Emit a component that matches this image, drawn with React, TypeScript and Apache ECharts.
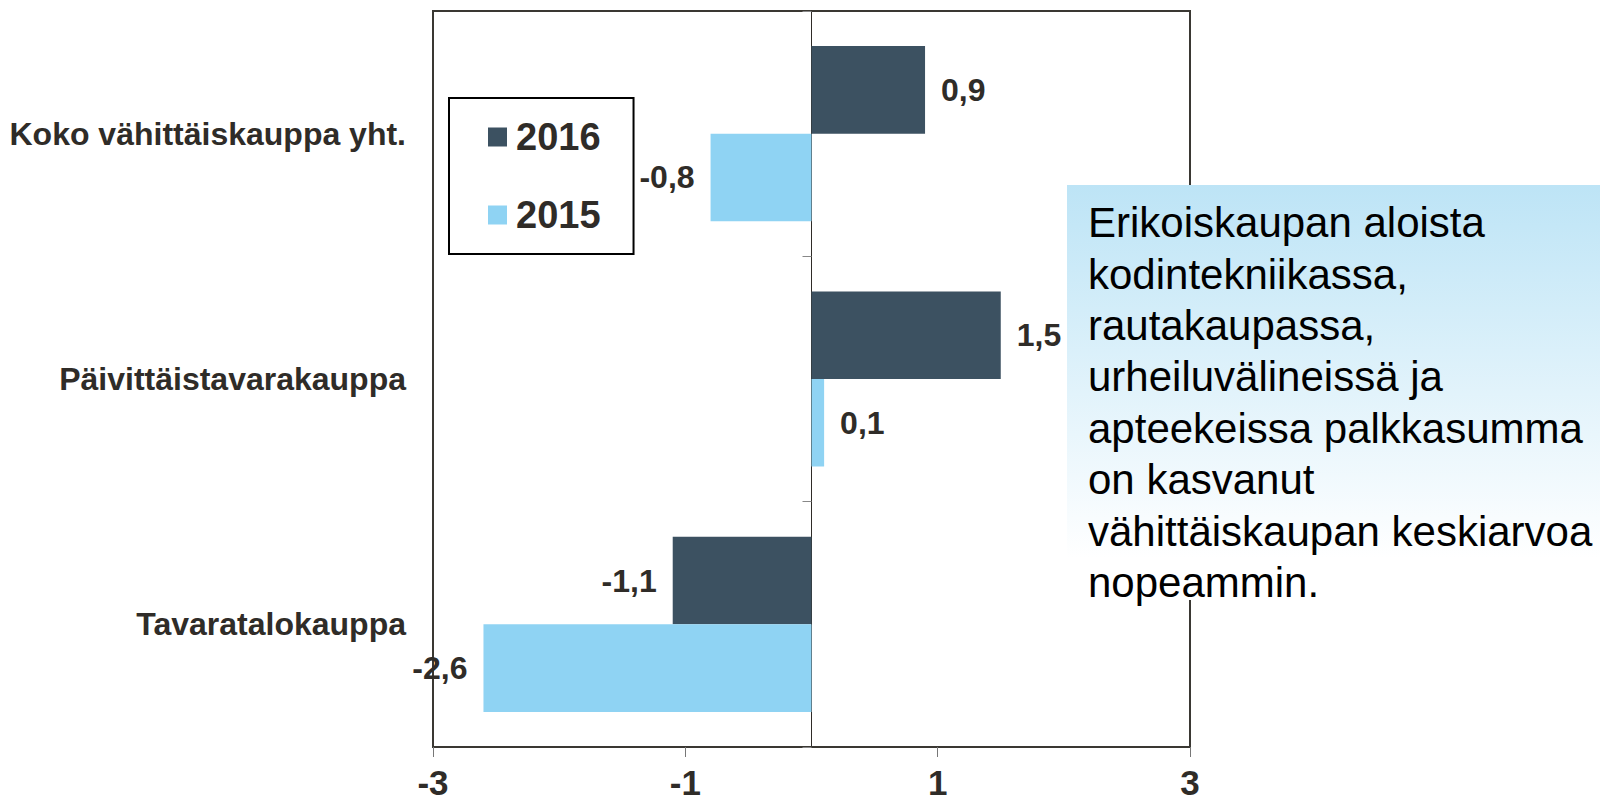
import React, { useEffect, useRef } from "react";
import * as echarts from "echarts";

const categories = ["Koko vähittäiskauppa yht.", "Päivittäistavarakauppa", "Tavaratalokauppa"];
const seriesNames = ["2016", "2015"];
const values2016 = [0.9, 1.5, -1.1];
const values2015 = [-0.8, 0.1, -2.6];
const xTicks = [-3, -1, 1, 3];
const noteLines = [
  "Erikoiskaupan aloista",
  "kodintekniikassa,",
  "rautakaupassa,",
  "urheiluvälineissä ja",
  "apteekeissa palkkasumma",
  "on kasvanut",
  "vähittäiskaupan keskiarvoa",
  "nopeammin.",
];

const FONT = "'Liberation Sans', Arial, sans-serif";
const TXT = "#2f2c28";
const C2016 = "#3c5161";
const C2015 = "#8fd3f3";

const toData = (arr: number[]) =>
  arr.map((v) => ({ value: v, label: { position: v < 0 ? "left" : "right" } }));

export default function App() {
  const ref = useRef<HTMLDivElement>(null);
  useEffect(() => {
    if (!ref.current) return;
    const chart = echarts.init(ref.current, null, { renderer: "svg" });
    const labelCfg = {
      show: true,
      distance: 16,
      fontFamily: FONT,
      fontWeight: "bold",
      fontSize: 32,
      color: TXT,
      formatter: (p: any) => p.value.toFixed(1).replace(".", ","),
    };
    chart.setOption({
      animation: false,
      backgroundColor: "#ffffff",
      grid: {
        left: 433,
        right: 410,
        top: 11,
        bottom: 56,
        show: true,
        borderColor: "#3a3833",
        borderWidth: 2,
        outerBoundsMode: "none",
      },
      legend: {
        data: seriesNames,
        orient: "vertical",
        left: 449,
        top: 98,
        icon: "rect",
        itemWidth: 19,
        itemHeight: 19,
        itemGap: 40,
        padding: [20, 33, 20, 39],
        borderColor: "#000000",
        borderWidth: 2,
        textStyle: {
          fontFamily: FONT,
          fontWeight: "bold",
          fontSize: 38,
          color: TXT,
          padding: [0, 0, 0, 4],
        },
      },
      xAxis: {
        type: "value",
        min: -3,
        max: 3,
        splitLine: { show: false },
        axisLine: { show: true, lineStyle: { color: "#3a3833", width: 2 } },
        axisTick: { show: true, length: 10, customValues: xTicks, lineStyle: { color: "#777", width: 1 } },
        axisLabel: {
          customValues: xTicks,
          margin: 23,
          lineHeight: 25,
          fontFamily: FONT,
          fontWeight: "bold",
          fontSize: 35,
          color: TXT,
        },
      },
      yAxis: [
        {
          type: "category",
          data: categories,
          inverse: true,
          axisLine: { show: false, onZero: false },
          axisTick: { show: false },
          axisLabel: { margin: 27, fontFamily: FONT, fontWeight: "bold", fontSize: 32, color: TXT },
        },
        {
          type: "category",
          data: categories,
          inverse: true,
          position: "left",
          axisLine: { show: true, onZero: true, lineStyle: { color: "#2f2c28", width: 1 } },
          axisTick: { show: true, length: 9, lineStyle: { color: "#888", width: 1 } },
          axisLabel: { show: false },
        },
      ],
      series: [
        {
          name: seriesNames[0],
          type: "bar",
          yAxisIndex: 0,
          data: toData(values2016),
          itemStyle: { color: C2016 },
          barGap: "0%",
          barCategoryGap: "28.6%",
          label: labelCfg,
        },
        {
          name: seriesNames[1],
          type: "bar",
          yAxisIndex: 0,
          data: toData(values2015),
          itemStyle: { color: C2015 },
          barGap: "0%",
          barCategoryGap: "28.6%",
          label: labelCfg,
        },
      ],
      graphic: [
        {
          type: "rect",
          z: 100,
          shape: { x: 1067, y: 185, width: 533, height: 415 },
          style: {
            fill: new echarts.graphic.LinearGradient(0, 0, 0, 1, [
              { offset: 0, color: "#bde4f6" },
              { offset: 0.9, color: "#ffffff" },
              { offset: 1, color: "#ffffff" },
            ]),
          },
        },
        {
          type: "text",
          z: 101,
          x: 1088,
          y: 197,
          style: {
            text: noteLines.join("\n"),
            fontFamily: FONT,
            fontSize: 42,
            lineHeight: 51.4,
            fill: "#000000",
            verticalAlign: "top",
          },
        },
      ],
    });
    return () => chart.dispose();
  }, []);
  return (
    <div
      ref={ref}
      style={{ position: "fixed", left: 0, top: 0, width: 1600, height: 803, background: "#fff" }}
    />
  );
}
